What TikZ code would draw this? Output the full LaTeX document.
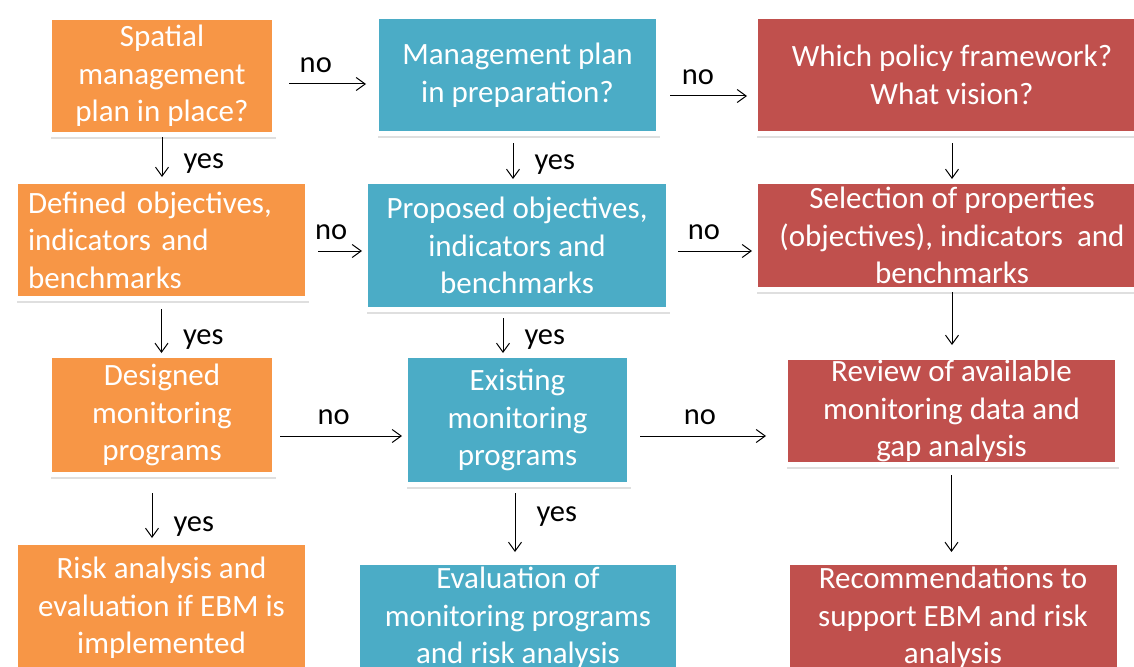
\documentclass[tikz,border=0pt]{standalone}
\usepackage{fontspec}
\setmainfont{Carlito}
\usepackage{tikz}
\usetikzlibrary{arrows.meta,shadows}
\definecolor{orangebox}{HTML}{F79646}
\definecolor{aquabox}{HTML}{4BACC6}
\definecolor{redbox}{HTML}{C0504D}

\begin{document}
\begin{tikzpicture}[x=1pt,y=-1pt,
  box/.style={draw=white,line width=5pt,text=white,align=center,inner sep=0pt,
    font=\fontsize{31}{37.5}\selectfont,
    drop shadow={shadow xshift=1.5pt,shadow yshift=-4pt,opacity=.25}},
  plan/.style={box,fill=orangebox},
  draft/.style={box,fill=aquabox},
  gap/.style={box,fill=redbox},
  flow/.style={-{Straight Barb[length=9pt,width=13pt]},line width=1pt},
  lbl/.style={inner sep=0pt,font=\fontsize{30.5}{36}\selectfont},
  nolbl/.style={lbl,above=11pt},
  yeslbl/.style={lbl,right=21pt,yshift=-5pt}]
  \path[use as bounding box] (0,0) rectangle (1134,666);
  \clip (0,0) rectangle (1134,666);
  \fill[white] (0,0) rectangle (1134,666);
  % first column: plan in place
  \node[plan,minimum width=225pt,minimum height=117pt] (spatial) at (162,76) {Spatial\\management\\plan in place?};
  \node[plan,minimum width=292pt,minimum height=117pt,text width=267pt,align=left] (defined) at (161.5,240) {Defined objectives,\\indicators and\\benchmarks};
  \node[plan,minimum width=225pt,minimum height=119pt] (designed) at (162,415) {Designed\\monitoring\\programs};
  \node[plan,minimum width=292pt,minimum height=131pt] (risk) at (161.5,608) {Risk analysis and\\evaluation if EBM is\\implemented};
  % second column: plan in preparation
  \node[draft,minimum width=282pt,minimum height=117pt] (prep) at (517.5,75) {Management plan\\in preparation?};
  \node[draft,minimum width=303pt,minimum height=128pt] (proposed) at (517,245.5) {Proposed objectives,\\indicators and\\benchmarks};
  \node[draft,minimum width=224pt,minimum height=129pt] (existing) at (517.5,420) {Existing\\monitoring\\programs};
  \node[draft,minimum width=321pt,minimum height=111pt] (evaluation) at (518,618) {Evaluation of\\monitoring programs\\and risk analysis};
  % third column: no plan
  \node[gap,minimum width=393pt,minimum height=117pt] (policy) at (952,75) {Which policy framework?\\What vision?};
  \node[gap,minimum width=393pt,minimum height=108pt] (selection) at (952,235.5) {Selection of properties\\(objectives), indicators~ and\\benchmarks};
  \node[gap,minimum width=332pt,minimum height=107pt] (review) at (951.5,411) {Review of available\\monitoring data and\\gap analysis};
  \node[gap,minimum width=332pt,minimum height=111pt] (recommend) at (953,618) {Recommendations to\\support EBM and risk\\analysis};
  % no
  \draw[flow,shorten <=12pt,shorten >=8pt] ([yshift=-8pt]spatial.east) -- node[nolbl,pos=.4]{no} ([yshift=-8pt]spatial.east -| prep.west);
  \draw[flow,shorten <=9pt,shorten >=6pt] ([yshift=-21pt]prep.east) -- node[nolbl,pos=.4]{no} ([yshift=-21pt]prep.east -| policy.west);
  \draw[flow,shorten <=8pt,shorten >=1pt] ([yshift=-11pt]defined.east) -- node[nolbl,pos=.4]{no} ([yshift=-11pt]defined.east -| proposed.west);
  \draw[flow,shorten <=7pt,shorten >=1pt] ([yshift=-5.5pt]proposed.east) -- node[nolbl,pos=.4]{no} ([yshift=-5.5pt]proposed.east -| selection.west);
  \draw[flow,shorten <=3pt,shorten >=1pt] ([yshift=-21pt]designed.east) -- node[nolbl,pos=.45]{no} ([yshift=-21pt]designed.east -| existing.west);
  \draw[flow,shorten <=8pt,shorten >=17pt] ([yshift=-16pt]existing.east) -- node[nolbl,pos=.45]{no} ([yshift=-16pt]existing.east -| review.west);
  % yes
  \draw[flow,shorten >=2pt] (spatial.south) -- node[yeslbl,pos=.52]{yes} (spatial.south |- defined.north);
  \draw[flow,shorten <=8pt] (defined.south) -- node[yeslbl,pos=.65]{yes} (defined.south |- designed.north);
  \draw[flow,shorten <=16pt,shorten >=2pt] ([xshift=-10pt]designed.south) -- node[yeslbl,pos=.7]{yes} ([xshift=-10pt]designed.south |- risk.north);
  \draw[flow,shorten <=7pt] ([xshift=-4.5pt]prep.south) -- node[yeslbl,pos=.55]{yes} ([xshift=-4.5pt]prep.south |- proposed.north);
  \draw[flow,shorten <=6pt] ([xshift=-14pt]proposed.south) -- node[yeslbl,pos=.55]{yes} ([xshift=-14pt]proposed.south |- existing.north);
  \draw[flow,shorten <=6pt,shorten >=8pt] ([xshift=-2.5pt]existing.south) -- node[yeslbl,pos=.33]{yes} ([xshift=-2.5pt]existing.south |- evaluation.north);
  % no plan column
  \draw[flow,shorten <=7pt] (policy.south) -- (policy.south |- selection.north);
  \draw[flow,shorten >=10pt] (selection.south) -- (selection.south |- review.north);
  \draw[flow,shorten <=8pt,shorten >=8pt] (review.south) -- (review.south |- recommend.north);
\end{tikzpicture}
\end{document}
